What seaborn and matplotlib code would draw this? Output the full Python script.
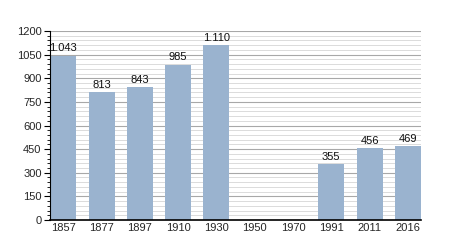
import matplotlib
matplotlib.use("Agg")
import matplotlib.pyplot as plt
import seaborn as sns
import numpy as np
import pandas as pd
from matplotlib.ticker import MultipleLocator

years = ["1857", "1877", "1897", "1910", "1930", "1950", "1970", "1991", "2011", "2016"]
population = [1043, 813, 843, 985, 1110, np.nan, np.nan, 355, 456, 469]
labels = ["1.043", "813", "843", "985", "1.110", "", "", "355", "456", "469"]

sns.set_theme(style="white")
plt.rcParams['font.family'] = ['Liberation Sans', 'DejaVu Sans']

df = pd.DataFrame({"year": years, "pop": population})

fig = plt.figure(figsize=(4.5, 2.5), dpi=100)
ax = fig.add_axes([0.111, 0.12, 0.825, 0.756])

# grid
ax.yaxis.set_major_locator(MultipleLocator(150))
ax.yaxis.set_minor_locator(MultipleLocator(30))
ax.grid(which="major", axis="y", color="#a8a8a8", linewidth=0.8)
ax.grid(which="minor", axis="y", color="#d6d6d6", linewidth=0.6)
ax.set_axisbelow(True)

sns.barplot(data=df, x="year", y="pop", order=years, color="#9ab3cf",
            saturation=1, width=0.68, linewidth=0, ax=ax)

for i, (v, t) in enumerate(zip(population, labels)):
    if not np.isnan(v):
        ax.text(i, v + 15, t, ha="center", va="bottom", fontsize=8, color="#111111")

ax.set_ylim(0, 1200)
ax.set_xlim(-0.35, 9.35)
ax.set_xlabel("")
ax.set_ylabel("")
for s in ["top", "right"]:
    ax.spines[s].set_visible(False)
ax.spines["left"].set_color("black")
ax.spines["bottom"].set_color("black")
ax.spines["left"].set_linewidth(0.8)
ax.spines["bottom"].set_linewidth(1.2)
ax.tick_params(axis="y", which="major", left=True, length=4, width=0.8, labelsize=8, pad=2, color="black")
ax.tick_params(axis="y", which="minor", left=True, length=2, width=0.6, color="black")
ax.tick_params(axis="x", which="both", bottom=False, length=0, labelsize=8, pad=2)

fig.savefig("out.png", dpi=100)
